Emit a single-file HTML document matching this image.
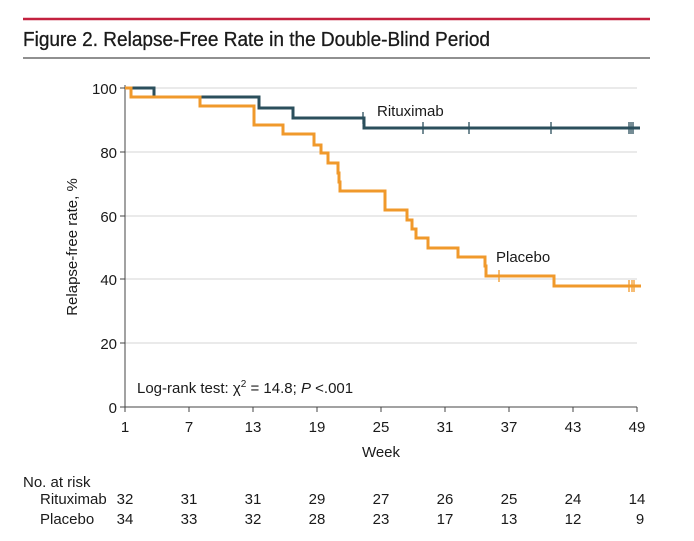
<!DOCTYPE html>
<html><head><meta charset="utf-8"><style>
body{margin:0;background:#fff;}
svg text{font-family:"Liberation Sans",sans-serif;fill:#1a1a1a;}
</style></head><body>
<svg width="694" height="536" viewBox="0 0 694 536" xmlns="http://www.w3.org/2000/svg">
<rect width="694" height="536" fill="#fff"/>
<line x1="23" y1="19" x2="650" y2="19" stroke="#c3213f" stroke-width="2.5"/>
<text x="23" y="46" font-size="20" textLength="467" lengthAdjust="spacingAndGlyphs" stroke="#1a1a1a" stroke-width="0.3">Figure 2. Relapse-Free Rate in the Double-Blind Period</text>
<line x1="23" y1="58" x2="650" y2="58" stroke="#222" stroke-width="1"/>
<g stroke="#ddd" stroke-width="1.2">
<line x1="125" y1="88" x2="637" y2="88"/><line x1="125" y1="152" x2="637" y2="152"/>
<line x1="125" y1="216" x2="637" y2="216"/><line x1="125" y1="279" x2="637" y2="279"/>
<line x1="125" y1="343" x2="637" y2="343"/></g>
<g stroke="#444" stroke-width="1">
<line x1="125" y1="85" x2="125" y2="407"/><line x1="125" y1="407" x2="637" y2="407"/>
<line x1="120" y1="88" x2="125" y2="88"/><line x1="120" y1="152" x2="125" y2="152"/><line x1="120" y1="216" x2="125" y2="216"/><line x1="120" y1="279" x2="125" y2="279"/><line x1="120" y1="343" x2="125" y2="343"/><line x1="120" y1="407" x2="125" y2="407"/>
<line x1="125" y1="407" x2="125" y2="412"/><line x1="189" y1="407" x2="189" y2="412"/><line x1="253" y1="407" x2="253" y2="412"/><line x1="317" y1="407" x2="317" y2="412"/><line x1="381" y1="407" x2="381" y2="412"/><line x1="445" y1="407" x2="445" y2="412"/><line x1="509" y1="407" x2="509" y2="412"/><line x1="573" y1="407" x2="573" y2="412"/><line x1="637" y1="407" x2="637" y2="412"/>
</g>
<g font-size="15" text-anchor="end">
<text x="117" y="94">100</text><text x="117" y="158">80</text><text x="117" y="222">60</text><text x="117" y="285">40</text><text x="117" y="349">20</text><text x="117" y="413">0</text></g>
<g font-size="15" text-anchor="middle">
<text x="125" y="432">1</text><text x="189" y="432">7</text><text x="253" y="432">13</text><text x="317" y="432">19</text><text x="381" y="432">25</text><text x="445" y="432">31</text><text x="509" y="432">37</text><text x="573" y="432">43</text><text x="637" y="432">49</text>
<text x="381" y="457">Week</text></g>
<text transform="translate(77,247) rotate(-90)" font-size="15" text-anchor="middle">Relapse-free rate, %</text>
<text x="137" y="393" font-size="15">Log-rank test: χ<tspan font-size="10" dy="-6">2</tspan><tspan dy="6"> = 14.8; </tspan><tspan font-style="italic">P</tspan> &lt;.001</text>
<path d="M125 88 H154 V97 H259 V108 H293 V118 H364 V128 H640" fill="none" stroke="#2b4f5c" stroke-width="3"/>
<g stroke="#2b4f5c" stroke-width="1.3"><line x1="363" y1="112" x2="363" y2="124"/><line x1="423" y1="122" x2="423" y2="134"/><line x1="469" y1="122" x2="469" y2="134"/><line x1="551" y1="122" x2="551" y2="134"/><line x1="629" y1="122" x2="629" y2="134"/><line x1="631" y1="122" x2="631" y2="134"/><line x1="633" y1="122" x2="633" y2="134"/></g>
<path d="M125 88 H131 V97 H200 V106 H254 V125 H283 V134 H314 V145 H321 V153 H328 V163 H338 V173 H339 V182 H340 V191 H385 V210 H407 V220 H412 V229 H416 V238 H428 V248 H458 V257 H485 V266 H486 V276 H554 V286 H641" fill="none" stroke="#f0992b" stroke-width="3"/>
<g stroke="#f0992b" stroke-width="1.3"><line x1="499" y1="270" x2="499" y2="282"/><line x1="629" y1="280" x2="629" y2="292"/><line x1="632" y1="280" x2="632" y2="292"/><line x1="634" y1="280" x2="634" y2="292"/></g>
<text x="377" y="116" font-size="15">Rituximab</text>
<text x="496" y="262" font-size="15">Placebo</text>
<text x="23" y="487" font-size="15">No. at risk</text>
<text x="40" y="504" font-size="15">Rituximab</text>
<text x="40" y="524" font-size="15">Placebo</text>
<g font-size="15" text-anchor="middle">
<text x="125" y="504">32</text><text x="189" y="504">31</text><text x="253" y="504">31</text><text x="317" y="504">29</text><text x="381" y="504">27</text><text x="445" y="504">26</text><text x="509" y="504">25</text><text x="573" y="504">24</text><text x="637" y="504">14</text>
<text x="125" y="524">34</text><text x="189" y="524">33</text><text x="253" y="524">32</text><text x="317" y="524">28</text><text x="381" y="524">23</text><text x="445" y="524">17</text><text x="509" y="524">13</text><text x="573" y="524">12</text><text x="640" y="524">9</text>
</g>
</svg>
</body></html>
